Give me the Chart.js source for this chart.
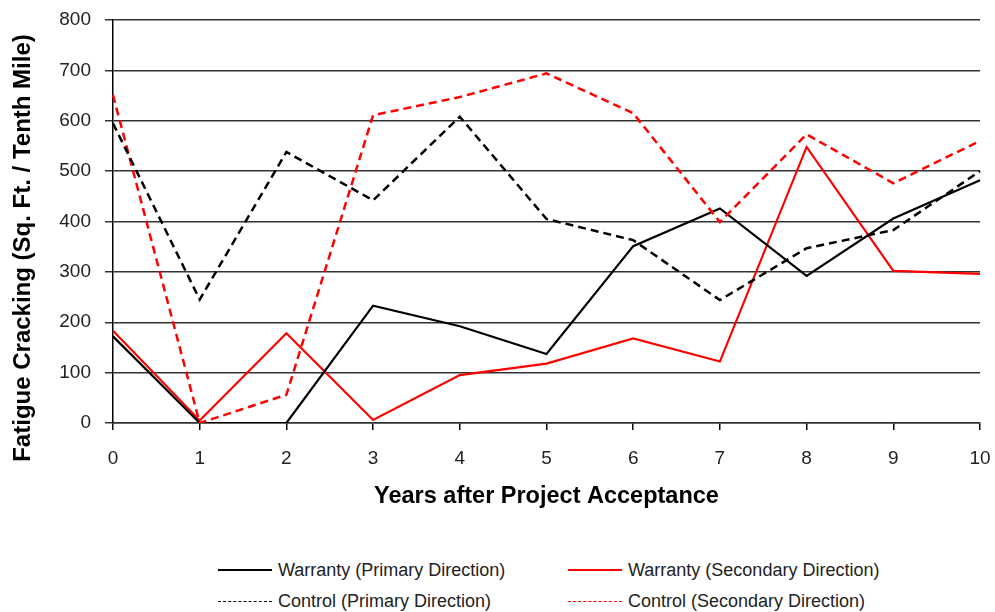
<!DOCTYPE html>
<html>
<head>
<meta charset="utf-8">
<title>Fatigue Cracking</title>
<script src="https://cdn.jsdelivr.net/npm/chart.js"></script>
<style>
    body { margin: 0; background: #fff; }
    .wrap { position: relative; width: 995px; height: 612px; font-family: "Liberation Sans", Arial, sans-serif; }
    .legend-item { position: absolute; display: flex; align-items: center; font-size: 18px; color: #222; white-space: nowrap; }
    .legend-item span.sample { display: inline-block; width: 54px; height: 0; margin-right: 6px; }
</style>
</head>
<body>
<div class="wrap">
    <canvas id="chart" width="995" height="520"></canvas>
    <div id="legend"></div>
</div>
<script>
    // данные
    const years = ['0', '1', '2', '3', '4', '5', '6', '7', '8', '9', '10'];
    const warrantyPrimary   = [172, 0, 0, 233, 192, 137, 351, 426, 292, 406, 482];
    const warrantySecondary = [183, 5, 178, 6, 95, 118, 168, 122, 548, 302, 296];
    const controlPrimary    = [595, 245, 538, 442, 608, 405, 363, 244, 347, 383, 500];
    const controlSecondary  = [651, 0, 56, 611, 647, 694, 615, 399, 573, 476, 560];

    const seriesNames = [
        'Warranty (Primary Direction)',
        'Warranty (Secondary Direction)',
        'Control (Primary Direction)',
        'Control (Secondary Direction)'
    ];

    const fontFamily = '"Liberation Sans", Arial, sans-serif';

    // подпись оси Y рисуем сами, чтобы сдвинуть её как на оригинале
    const yTitlePlugin = {
        id: 'yTitle',
        afterDraw(chart) {
            const ctx = chart.ctx;
            ctx.save();
            ctx.translate(23, 248);
            ctx.rotate(-Math.PI / 2);
            ctx.font = 'bold 24px ' + fontFamily;
            ctx.fillStyle = '#000';
            ctx.textAlign = 'center';
            ctx.textBaseline = 'middle';
            ctx.fillText('Fatigue Cracking (Sq. Ft. / Tenth Mile)', 0, 0);
            ctx.restore();
        }
    };

    const ctx = document.getElementById('chart').getContext('2d');
    new Chart(ctx, {
        type: 'line',
        data: {
            labels: years,
            datasets: [
                {
                    label: seriesNames[2],
                    data: controlPrimary,
                    borderColor: '#000',
                    borderWidth: 2.5,
                    borderDash: [8, 5]
                },
                {
                    label: seriesNames[3],
                    data: controlSecondary,
                    borderColor: '#ff0000',
                    borderWidth: 2.5,
                    borderDash: [8, 5]
                },
                {
                    label: seriesNames[0],
                    data: warrantyPrimary,
                    borderColor: '#000',
                    borderWidth: 2.2
                },
                {
                    label: seriesNames[1],
                    data: warrantySecondary,
                    borderColor: '#ff0000',
                    borderWidth: 2.2
                }
            ]
        },
        options: {
            responsive: false,
            animation: false,
            layout: { padding: { top: 20, right: 15, left: 0, bottom: 0 } },
            elements: {
                point: { radius: 0 },
                line: { tension: 0 }
            },
            plugins: {
                legend: { display: false },
                tooltip: { enabled: false }
            },
            scales: {
                x: {
                    offset: false,
                    afterFit: function(scale) {
                        scale.height = 97;
                        scale.paddingLeft = 0;
                        scale.paddingRight = 0;
                    },
                    grid: {
                        drawOnChartArea: false,
                        drawTicks: true,
                        tickLength: 7,
                        color: '#000',
                        lineWidth: 1.5
                    },
                    border: { color: '#333', width: 1.5 },
                    ticks: {
                        color: '#222',
                        padding: 17,
                        maxRotation: 0,
                        font: { family: fontFamily, size: 19 }
                    },
                    title: {
                        display: true,
                        text: 'Years after Project Acceptance',
                        color: '#000',
                        padding: { top: 0, bottom: 9 },
                        font: { family: fontFamily, size: 23.5, weight: 'bold' }
                    }
                },
                y: {
                    min: 0,
                    max: 800,
                    afterFit: function(scale) {
                        scale.width = 113;
                        scale.paddingTop = 0;
                        scale.paddingBottom = 0;
                    },
                    grid: {
                        color: '#333',
                        lineWidth: 1.5,
                        tickLength: 8
                    },
                    border: { color: '#000', width: 1.5 },
                    ticks: {
                        stepSize: 100,
                        color: '#222',
                        padding: 14,
                        font: { family: fontFamily, size: 19 }
                    }
                }
            }
        },
        plugins: [yTitlePlugin]
    });

    // легенда внизу, две колонки
    const legendItems = [
        { name: seriesNames[0], color: '#000', dashed: false, left: 218, top: 570 },
        { name: seriesNames[1], color: '#ff0000', dashed: false, left: 568, top: 570 },
        { name: seriesNames[2], color: '#000', dashed: true, left: 218, top: 601 },
        { name: seriesNames[3], color: '#ff0000', dashed: true, left: 568, top: 601 }
    ];
    const legend = document.getElementById('legend');
    legendItems.forEach(function(item) {
        const div = document.createElement('div');
        div.className = 'legend-item';
        div.style.left = item.left + 'px';
        div.style.top = (item.top - 11) + 'px';
        div.style.height = '22px';
        const sample = document.createElement('span');
        sample.className = 'sample';
        sample.style.borderTop = (item.dashed ? '1.5px dashed ' : '2px solid ') + item.color;
        const text = document.createElement('span');
        text.textContent = item.name;
        div.appendChild(sample);
        div.appendChild(text);
        legend.appendChild(div);
    });
</script>
</body>
</html>
